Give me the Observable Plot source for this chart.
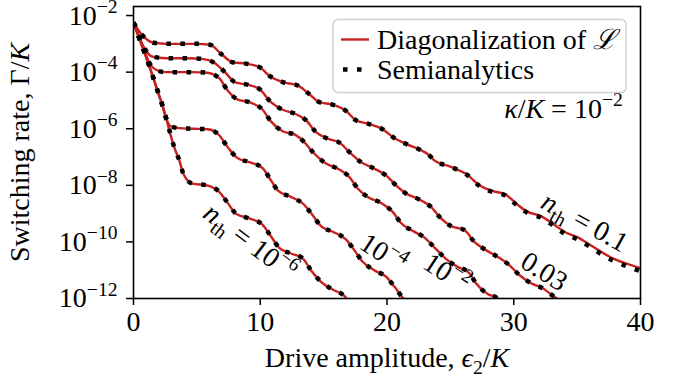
<!DOCTYPE html>
<html><head><meta charset="utf-8">
<script src="https://cdn.jsdelivr.net/npm/d3@7"></script>
<script src="https://cdn.jsdelivr.net/npm/@observablehq/plot@0.6"></script>
<style>
body{margin:0;background:#fff}
#chart{width:678px;height:383px}
</style></head>
<body><div id="chart"></div>
<script>
// ---- data ----
const xTicks = [0, 10, 20, 30, 40];
const yTicks = [1e-12, 1e-10, 1e-8, 1e-6, 1e-4, 1e-2];
const yTickLabels = ["10^{−12}", "10^{−10}", "10^{−8}", "10^{−6}", "10^{−4}", "10^{−2}"];
const seriesNames = ["0.1", "0.03", "1e-2", "1e-4", "1e-6"];

// n_th = 0.1  (x = ε2/K, value = log10 Γ/K)
const x01   = [0, 0.72, 1.59, 2.69, 3.88, 4.98, 6.03, 6.9, 7.82, 8.87, 9.92, 10.79, 11.77, 12.95, 13.74, 14.66, 15.71, 16.71, 17.55, 18.48, 19.66, 20.58, 21.63, 22.55, 23.34, 23.71, 25.05, 26.37, 27.29, 28.29, 29.34, 30.18, 31.1, 32.15, 33.12, 33.99, 35.05, 35.97, 36.89, 37.81, 38.87, 40];
const log01 = [-2.25, -2.71, -2.96, -3.0, -3.0, -3.0, -3.03, -3.35, -3.65, -3.70, -3.82, -4.15, -4.35, -4.47, -4.73, -5.06, -5.15, -5.35, -5.70, -5.82, -6.02, -6.33, -6.56, -6.73, -6.94, -7.11, -7.35, -7.64, -8.0, -8.2, -8.32, -8.64, -8.94, -9.09, -9.37, -9.64, -9.84, -10.09, -10.35, -10.58, -10.76, -10.93];
// semianalytic n_th = 0.1 drifts slightly below at large drive
const semiLog01 = [-2.25, -2.71, -2.96, -3.0, -3.0, -3.0, -3.03, -3.35, -3.65, -3.70, -3.82, -4.15, -4.35, -4.47, -4.73, -5.06, -5.15, -5.35, -5.70, -5.82, -6.02, -6.33, -6.56, -6.73, -6.94, -7.11, -7.35, -7.65, -8.02, -8.23, -8.36, -8.68, -8.98, -9.14, -9.42, -9.70, -9.91, -10.16, -10.43, -10.66, -10.85, -11.04];

// n_th = 0.03
const x003   = [0, 0.98, 1.37, 2.03, 3.09, 4.27, 5.40, 6.37, 7.21, 8.0, 9.05, 9.92, 10.84, 11.77, 12.74, 13.61, 14.4, 15.32, 16.24, 17.02, 17.95, 19.0, 19.92, 20.71, 21.5, 22.55, 23.47, 24.26, 25.05, 26.1, 26.89, 27.81, 28.74, 29.65, 30.44, 31.37, 32.29, 33.2, 33.75];
const log003 = [-2.25, -3.24, -3.43, -3.49, -3.51, -3.51, -3.53, -3.67, -4.0, -4.35, -4.45, -4.59, -5.06, -5.33, -5.47, -5.70, -6.12, -6.35, -6.49, -6.82, -7.18, -7.41, -7.65, -8.0, -8.29, -8.50, -8.76, -9.17, -9.44, -9.58, -10.0, -10.29, -10.53, -10.82, -11.17, -11.46, -11.64, -11.94, -12.1];

// n_th = 1e-2
const x1e2   = [0, 0.8, 1.37, 2.0, 2.42, 3.5, 4.6, 5.79, 6.76, 7.43, 8.22, 9.13, 10.19, 10.84, 11.77, 12.74, 13.47, 14.2, 15.19, 16.11, 17.02, 17.69, 18.48, 19.53, 20.45, 21.1, 22.03, 22.94, 23.81, 24.6, 25.45, 26.5, 27.02, 27.94, 28.6, 29.0];
const log1e2 = [-2.25, -3.2, -3.76, -3.96, -4.0, -4.0, -4.0, -4.02, -4.21, -4.65, -4.97, -5.06, -5.33, -5.74, -6.09, -6.21, -6.47, -6.85, -7.23, -7.41, -7.70, -8.11, -8.41, -8.62, -8.94, -9.33, -9.61, -9.84, -10.23, -10.58, -10.85, -11.11, -11.46, -11.84, -11.96, -12.1];

// n_th = 1e-4
const x1e4   = [0, 0.8, 1.63, 1.95, 2.30, 2.61, 2.95, 3.61, 4.74, 5.85, 6.76, 7.43, 8.16, 9.13, 10.13, 10.84, 11.42, 12.42, 13.35, 14.14, 14.79, 15.71, 16.76, 17.42, 18.08, 18.99, 19.92, 20.58, 21.18, 21.5];
const log1e4 = [-2.25, -3.22, -4.29, -4.73, -5.20, -5.68, -5.92, -5.98, -6.0, -6.02, -6.23, -6.65, -7.02, -7.18, -7.37, -7.82, -8.2, -8.41, -8.64, -9.06, -9.44, -9.64, -9.91, -10.29, -10.70, -11.0, -11.23, -11.58, -11.94, -12.1];

// n_th = 1e-6
const x1e6   = [0, 0.8, 1.63, 1.95, 2.30, 2.61, 2.9, 3.21, 3.61, 3.95, 4.66, 5.79, 6.76, 7.43, 8.08, 9.13, 10.13, 10.84, 11.5, 12.42, 13.35, 14.0, 14.79, 15.71, 16.63, 17.0];
const log1e6 = [-2.25, -3.22, -4.29, -4.73, -5.20, -5.68, -6.17, -6.65, -7.11, -7.61, -7.94, -8.0, -8.23, -8.62, -9.0, -9.17, -9.37, -9.80, -10.21, -10.41, -10.58, -11.0, -11.41, -11.68, -11.91, -12.1];

// ---- tables built from the arrays ----
const exact = [[x01, log01], [x003, log003], [x1e2, log1e2], [x1e4, log1e4], [x1e6, log1e6]];
const semi  = [[x01, semiLog01], [x003, log003], [x1e2, log1e2], [x1e4, log1e4], [x1e6, log1e6]];
const toRows = (list) => list.flatMap(([xs, ls], k) => xs.map((x, i) => ({x, rate: Math.pow(10, ls[i]), series: seriesNames[k]})));
const exactRows = toRows(exact);
const semiRows = toRows(semi);

const FONT = "Liberation Serif, DejaVu Serif, serif";
const FS = 28;
const RED = "#c8201e";

const plot = Plot.plot({
  width: 678, height: 383,
  marginLeft: 133, marginRight: 38, marginTop: 6, marginBottom: 85,
  style: {fontFamily: FONT, fontSize: FS + "px", color: "black", background: "white", overflow: "visible"},
  x: {domain: [0, 40]},
  y: {type: "log", domain: [1e-12, Math.pow(10, -1.68)]},
  marks: [
    Plot.line(exactRows, {x: "x", y: "rate", z: "series", stroke: RED, strokeWidth: 2.4, curve: "monotone-x", clip: true}),
    Plot.line(semiRows, {x: "x", y: "rate", z: "series", stroke: "black", strokeWidth: 4.5, strokeDasharray: "4.5,9.5", strokeLinecap: "butt", curve: "monotone-x", clip: true}),
    Plot.frame({stroke: "black", strokeWidth: 1.6}),
    Plot.axisX({ticks: xTicks, tickSize: 7, tickPadding: 6, strokeWidth: 1.5, label: null, tickFormat: d => String(d)}),
    Plot.axisY({ticks: yTicks, tickSize: 7, tickPadding: 9, strokeWidth: 1.5, label: null, tickFormat: d => yTickLabels[yTicks.indexOf(d)]}),
    Plot.text(["Drive amplitude, $ϵ$_{2}/$K$"], {frameAnchor: "bottom", lineAnchor: "middle", dy: 60, text: d => d}),
    Plot.text(["Switching rate, Γ/$K$"], {frameAnchor: "left", textAnchor: "middle", lineAnchor: "middle", dx: -113, rotate: -90, text: d => d}),
    Plot.text(["$κ$/$K$ = 10^{−2}"], {x: () => 38.6, y: () => Math.pow(10, -5.3), textAnchor: "end", text: d => d}),
    Plot.text(["$n$_{th} = 10^{−6}"], {x: () => 9.2, y: () => Math.pow(10, -10.0), rotate: 37, text: d => d}),
    Plot.text(["10^{−4}"], {x: () => 19.7, y: () => Math.pow(10, -10.4), rotate: 33, text: d => d}),
    Plot.text(["10^{−2}"], {x: () => 24.7, y: () => Math.pow(10, -11.1), rotate: 33, text: d => d}),
    Plot.text(["0.03"], {x: () => 32.4, y: () => Math.pow(10, -11.05), rotate: 32, text: d => d}),
    Plot.text(["$n$_{th} = 0.1"], {x: () => 35.6, y: () => Math.pow(10, -9.3), rotate: 29, text: d => d})
  ]
});
document.getElementById("chart").appendChild(plot);

// ---- legend (inside the axes, top right) ----
const svg = d3.select(plot);
const lg = svg.append("g").attr("font-family", FONT).attr("font-size", FS).attr("text-anchor", "start");
lg.append("rect").attr("x", 333).attr("y", 19.5).attr("width", 293).attr("height", 73).attr("rx", 5)
  .attr("fill", "white").attr("fill-opacity", 0.85).attr("stroke", "#cfcfcf").attr("stroke-width", 1.5);
lg.append("line").attr("x1", 341).attr("x2", 369).attr("y1", 39.5).attr("y2", 39.5)
  .attr("stroke", RED).attr("stroke-width", 2.4);
lg.append("line").attr("x1", 343).attr("x2", 369).attr("y1", 69.5).attr("y2", 69.5)
  .attr("stroke", "black").attr("stroke-width", 4.5).attr("stroke-dasharray", "4.5,9.5");
lg.append("text").attr("x", 377).attr("y", 39.5).attr("dy", "0.33em").attr("fill", "black").text("Diagonalization of $ℒ$");
lg.append("text").attr("x", 377).attr("y", 69.5).attr("dy", "0.33em").attr("fill", "black").text("Semianalytics");

// ---- rich text: ^{sup}, _{sub}, $italic$ ----
function parseRich(str) {
  const out = []; let i = 0, italic = false, buf = "";
  const flush = () => { if (buf) out.push({t: buf, mode: "n", italic}); buf = ""; };
  while (i < str.length) {
    const c = str[i];
    if (c === "$") { flush(); italic = !italic; i++; }
    else if ((c === "^" || c === "_") && str[i + 1] === "{") {
      flush();
      const j = str.indexOf("}", i);
      out.push({t: str.slice(i + 2, j), mode: c === "^" ? "sup" : "sub", italic});
      i = j + 1;
    } else { buf += c; i++; }
  }
  flush();
  return out;
}
svg.selectAll("text").each(function () {
  const el = this;
  const s = el.textContent;
  if (!/[\^_]\{|\$/.test(s)) return;
  const F = parseFloat(getComputedStyle(el).fontSize) || FS;
  const segs = parseRich(s);
  el.textContent = "";
  let shift = 0;
  for (const sg of segs) {
    const target = sg.mode === "sup" ? -0.42 * F : sg.mode === "sub" ? 0.24 * F : 0;
    const ts = document.createElementNS("http://www.w3.org/2000/svg", "tspan");
    if (target - shift !== 0) ts.setAttribute("dy", (target - shift).toFixed(2));
    shift = target;
    if (sg.mode !== "n") ts.setAttribute("font-size", (0.7 * F).toFixed(2));
    if (sg.italic) ts.setAttribute("font-style", "italic");
    ts.textContent = sg.t;
    el.appendChild(ts);
  }
});
</script>
</body></html>
